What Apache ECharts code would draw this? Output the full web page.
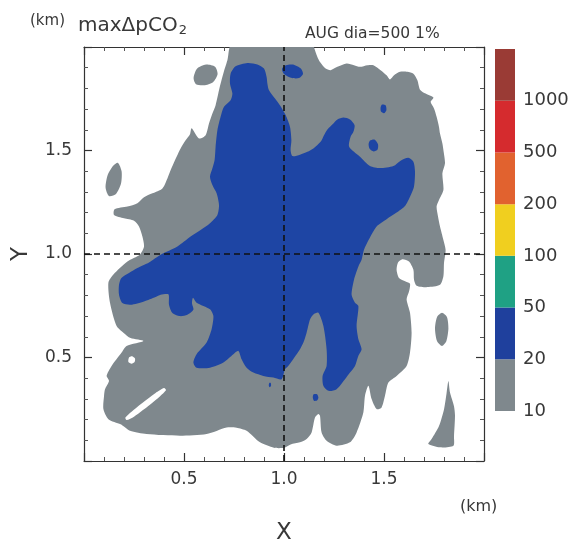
<!DOCTYPE html>
<html><head><meta charset="utf-8">
<script src="https://cdn.jsdelivr.net/npm/echarts@6/dist/echarts.min.js"></script>
<style>html,body{margin:0;padding:0;background:#fff}#c{width:574px;height:550px}</style>
</head><body><div id="c"></div>
<script>
// ---- contour data (km): max delta pCO2 >= 10 (gray) and >= 20 (blue) ----
const grayMain = [
[0.742,2.02],[1.150,2.02],[1.150,2.000],[1.167,1.952],[1.180,1.928],[1.208,1.896],[1.233,1.888],[1.267,1.904],[1.313,1.920],[1.350,1.912],[1.380,1.904],[1.417,1.912],[1.447,1.912],[1.483,1.888],[1.513,1.863],[1.530,1.843],[1.550,1.863],[1.580,1.880],[1.617,1.880],[1.647,1.871],[1.667,1.839],[1.680,1.794],[1.708,1.775],[1.747,1.756],[1.733,1.735],[1.750,1.703],[1.763,1.663],[1.775,1.614],[1.780,1.582],[1.792,1.534],[1.797,1.502],[1.805,1.438],[1.792,1.390],[1.797,1.309],[1.775,1.261],[1.763,1.229],[1.770,1.181],[1.780,1.133],[1.797,1.068],[1.808,1.020],[1.800,0.956],[1.797,0.892],[1.780,0.851],[1.717,0.840],[1.663,0.847],[1.650,0.876],[1.647,0.924],[1.625,0.964],[1.592,0.975],[1.570,0.959],[1.563,0.924],[1.575,0.884],[1.608,0.867],[1.630,0.856],[1.625,0.819],[1.613,0.781],[1.630,0.716],[1.638,0.620],[1.630,0.524],[1.613,0.459],[1.563,0.411],[1.522,0.379],[1.505,0.315],[1.488,0.259],[1.463,0.251],[1.438,0.299],[1.422,0.363],[1.405,0.315],[1.397,0.235],[1.363,0.138],[1.330,0.090],[1.263,0.074],[1.213,0.098],[1.188,0.138],[1.180,0.218],[1.172,0.227],[1.155,0.210],[1.138,0.138],[1.113,0.106],[1.080,0.090],[1.033,0.080],[1.000,0.064],[0.950,0.064],[0.880,0.090],[0.813,0.146],[0.763,0.161],[0.713,0.162],[0.613,0.130],[0.480,0.122],[0.313,0.130],[0.230,0.146],[0.183,0.177],[0.122,0.202],[0.097,0.251],[0.100,0.313],[0.105,0.347],[0.125,0.387],[0.113,0.411],[0.138,0.459],[0.188,0.524],[0.213,0.556],[0.297,0.580],[0.233,0.594],[0.197,0.620],[0.163,0.652],[0.130,0.765],[0.122,0.861],[0.147,0.901],[0.217,0.964],[0.280,0.998],[0.300,1.036],[0.292,1.084],[0.275,1.133],[0.250,1.161],[0.200,1.173],[0.150,1.189],[0.153,1.216],[0.217,1.229],[0.267,1.245],[0.300,1.274],[0.342,1.293],[0.392,1.317],[0.417,1.365],[0.437,1.414],[0.463,1.470],[0.483,1.510],[0.508,1.550],[0.530,1.579],[0.538,1.608],[0.575,1.558],[0.608,1.574],[0.625,1.631],[0.642,1.679],[0.658,1.719],[0.675,1.791],[0.697,1.873],[0.717,1.936]
];
const grayTopLeft = [[0.548,1.850],[0.565,1.895],[0.610,1.915],[0.655,1.905],[0.668,1.870],[0.645,1.830],[0.600,1.815],[0.560,1.820]];
const grayLeft = [[0.170,1.440],[0.188,1.400],[0.185,1.340],[0.160,1.290],[0.125,1.280],[0.108,1.320],[0.118,1.380],[0.145,1.425]];
const grayRight = [[1.790,0.716],[1.815,0.695],[1.822,0.640],[1.812,0.580],[1.790,0.556],[1.765,0.580],[1.755,0.640],[1.765,0.695]];
const grayLowRight = [[1.822,0.387],[1.830,0.331],[1.850,0.265],[1.855,0.218],[1.850,0.120],[1.847,0.074],[1.780,0.066],[1.722,0.082],[1.738,0.106],[1.775,0.169],[1.800,0.249],[1.813,0.329]];
const whiteSlit = [[0.400,0.353],[0.410,0.342],[0.342,0.281],[0.250,0.214],[0.213,0.198],[0.207,0.210],[0.275,0.268],[0.358,0.329]];
const whiteHook = [[0.225,0.500],[0.240,0.506],[0.255,0.495],[0.253,0.478],[0.238,0.470],[0.222,0.478]];
const blueMain = [
[0.817,1.923],[0.867,1.916],[0.900,1.896],[0.913,1.855],[0.917,1.823],[0.925,1.791],[0.955,1.751],[0.983,1.714],[1.008,1.671],[1.030,1.614],[1.037,1.550],[1.033,1.502],[1.042,1.473],[1.080,1.480],[1.117,1.494],[1.147,1.510],[1.183,1.542],[1.200,1.574],[1.217,1.602],[1.247,1.631],[1.267,1.650],[1.297,1.659],[1.330,1.650],[1.353,1.622],[1.347,1.590],[1.333,1.566],[1.325,1.521],[1.350,1.494],[1.380,1.470],[1.430,1.425],[1.480,1.415],[1.547,1.425],[1.583,1.451],[1.622,1.465],[1.647,1.446],[1.655,1.398],[1.650,1.325],[1.630,1.277],[1.605,1.232],[1.563,1.200],[1.513,1.168],[1.463,1.133],[1.425,1.071],[1.400,1.020],[1.388,0.972],[1.372,0.940],[1.350,0.876],[1.338,0.803],[1.355,0.765],[1.372,0.749],[1.363,0.652],[1.372,0.588],[1.388,0.540],[1.372,0.508],[1.355,0.459],[1.330,0.427],[1.305,0.395],[1.263,0.347],[1.222,0.339],[1.197,0.363],[1.193,0.411],[1.213,0.459],[1.213,0.540],[1.197,0.652],[1.172,0.716],[1.147,0.708],[1.130,0.684],[1.113,0.620],[1.097,0.572],[1.080,0.540],[1.050,0.498],[1.020,0.458],[1.005,0.443],[0.988,0.395],[0.947,0.403],[0.897,0.411],[0.847,0.427],[0.813,0.451],[0.788,0.492],[0.772,0.532],[0.747,0.516],[0.697,0.476],[0.630,0.451],[0.563,0.451],[0.547,0.476],[0.563,0.516],[0.613,0.572],[0.638,0.636],[0.647,0.700],[0.630,0.733],[0.563,0.765],[0.545,0.789],[0.540,0.762],[0.547,0.731],[0.517,0.707],[0.480,0.700],[0.442,0.715],[0.425,0.755],[0.422,0.805],[0.383,0.803],[0.358,0.792],[0.300,0.771],[0.233,0.755],[0.192,0.763],[0.175,0.803],[0.175,0.851],[0.187,0.884],[0.225,0.908],[0.267,0.932],[0.325,0.959],[0.383,0.996],[0.467,1.036],[0.533,1.084],[0.583,1.116],[0.630,1.149],[0.667,1.189],[0.675,1.237],[0.663,1.293],[0.642,1.333],[0.630,1.373],[0.642,1.414],[0.653,1.454],[0.658,1.518],[0.667,1.598],[0.683,1.663],[0.700,1.711],[0.733,1.743],[0.742,1.775],[0.730,1.823],[0.733,1.871],[0.758,1.907]
];
const blueTop = [[0.990,1.895],[1.010,1.912],[1.045,1.915],[1.085,1.895],[1.095,1.870],[1.075,1.850],[1.040,1.850],[1.000,1.870]];
const blueDot1 = [[1.490,1.722],[1.508,1.718],[1.512,1.695],[1.500,1.680],[1.485,1.688],[1.483,1.708]];
const blueDot2 = [[1.430,1.548],[1.452,1.553],[1.470,1.530],[1.468,1.505],[1.448,1.495],[1.428,1.508],[1.423,1.530]];
const blueDot3 = [[1.148,0.322],[1.165,0.323],[1.172,0.307],[1.165,0.292],[1.150,0.291],[1.144,0.307]];
const blueDot4 = [[0.927,0.378],[0.934,0.377],[0.935,0.362],[0.928,0.356],[0.924,0.365]];

// ---- colour scale ----
const levelLabels = ['10','20','50','100','200','500','1000'];
const levelColors = ['#7f888d','#1f409d','#1fa184','#f0cf1f','#e1622f','#d52b2e','#9a3b35'];
const axisTicks = [0.5, 1.0, 1.5];

const GRAY = levelColors[0], BLUE = '#1e45a4', WHITE = '#ffffff';
const layers = [
  {polys:[grayMain, grayTopLeft, grayLeft, grayRight, grayLowRight], color: GRAY},
  {polys:[whiteSlit, whiteHook], color: WHITE},
  {polys:[blueMain, blueTop, blueDot1, blueDot2, blueDot3, blueDot4], color: BLUE}
];

const chart = echarts.init(document.getElementById('c'));
const FONT = 'DejaVu Sans';
const TXT = '#383838';

function axisBase(extra){
  return Object.assign({
    type:'value', min:0, max:2, interval:0.5, gridIndex:0,
    axisLine:{show:true, onZero:false, lineStyle:{color:'#333', width:1.2}},
    axisTick:{show:true, inside:true, length:8, lineStyle:{color:'#333', width:1.2}},
    minorTick:{show:true, splitNumber:5, length:4, lineStyle:{color:'#555', width:1}},
    splitLine:{show:false}, minorSplitLine:{show:false},
    axisLabel:{show:false}
  }, extra);
}
const fmt = v => axisTicks.some(t => Math.abs(t - v) < 1e-6) ? v.toFixed(1) : '';

const series = layers.map((L, k) => ({
  type:'custom', xAxisIndex:0, yAxisIndex:0, clip:true, silent:true, z:2+k,
  data: L.polys.map((p,i)=>[i]),
  renderItem: (params, api) => ({
    type:'polygon',
    shape:{points: L.polys[params.dataIndex].map(pt => api.coord(pt)), smooth:0.25},
    style:{fill: L.color}
  })
}));
series[2].markLine = {
  silent:true, symbol:'none', label:{show:false}, animation:false,
  lineStyle:{color:'#111', type:[6,4], width:1.6},
  data:[{xAxis:1.0},{yAxis:1.0}]
};
series.push({
  type:'custom', xAxisIndex:2, yAxisIndex:2, silent:true,
  data: levelColors.map((c,i)=>[i]),
  renderItem:(params, api) => {
    const i = params.dataIndex;
    const p0 = api.coord([0, i+1]), p1 = api.coord([1, i]);
    return {type:'rect', shape:{x:p0[0], y:p0[1], width:p1[0]-p0[0], height:p1[1]-p0[1]}, style:{fill: levelColors[i]}};
  }
});

chart.setOption({
  animation:false,
  backgroundColor:'#fff',
  textStyle:{fontFamily:FONT},
  title:[
    {text:'(km)', left:25, top:9, textStyle:{fontSize:15, fontWeight:'normal', color:TXT, fontFamily:FONT}},
    {text:'{a|maxΔpCO}{b|2}', left:73, top:9, textStyle:{fontWeight:'normal', fontFamily:FONT,
      rich:{a:{fontSize:20, color:TXT, fontFamily:FONT}, b:{fontSize:13, color:TXT, fontFamily:FONT, padding:[10,0,0,1]}}}},
    {text:'AUG dia=500 1%', left:300, top:21, textStyle:{fontSize:15.5, fontWeight:'normal', color:TXT, fontFamily:FONT}},
    {text:'(km)', left:455, top:494, textStyle:{fontSize:16, fontWeight:'normal', color:TXT, fontFamily:FONT}}
  ],
  grid:[
    {left:84, top:47, width:400, height:415},
    {left:495, top:49, width:20, height:362}
  ],
  xAxis:[
    axisBase({position:'bottom', name:'X', nameLocation:'middle', nameGap:61,
      nameTextStyle:{fontSize:23, color:TXT, fontFamily:FONT},
      axisLabel:{show:true, formatter:fmt, fontSize:17, color:TXT, margin:10, fontFamily:FONT}}),
    axisBase({position:'top'}),
    {type:'value', gridIndex:1, min:0, max:1, show:false}
  ],
  yAxis:[
    axisBase({position:'left', name:'Y', nameLocation:'middle', nameGap:51,
      nameTextStyle:{fontSize:23, color:TXT, fontFamily:FONT},
      axisLabel:{show:true, formatter:fmt, fontSize:17, color:TXT, margin:12, fontFamily:FONT}}),
    axisBase({position:'right'}),
    {type:'value', gridIndex:1, min:0, max:7, interval:1, position:'right',
      axisLine:{show:false}, axisTick:{show:false}, splitLine:{show:false},
      axisLabel:{show:true, margin:8, fontSize:18, color:TXT, fontFamily:FONT,
        formatter: v => levelLabels[v] !== undefined ? levelLabels[v] : ''}}
  ],
  series: series
});
</script>
</body></html>
